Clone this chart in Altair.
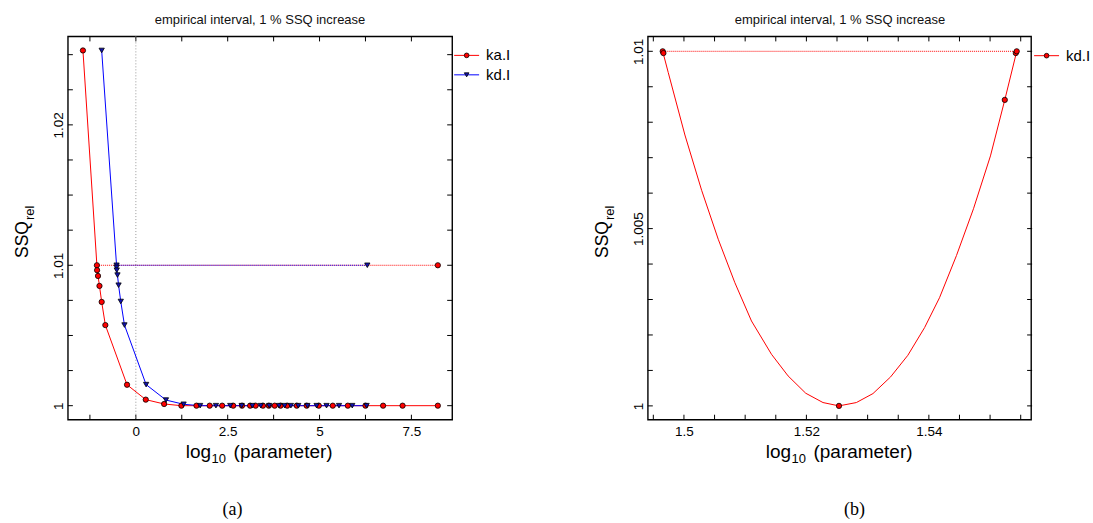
import altair as alt
import pandas as pd

FONT = "Liberation Sans"
W, H = 385, 384

# ---------------- panel (a) data ----------------
ka_x = [-1.44, -1.06, -1.055, -1.03, -0.99, -0.93, -0.83, -0.24, 0.27, 0.77, 1.24,
        1.65, 2.01, 2.35, 2.65, 2.89, 3.11, 3.26, 3.46, 3.62, 3.78, 3.94, 4.12,
        4.38, 4.65, 4.98, 5.36, 5.77, 6.25, 6.73, 7.26, 8.22]
ka_y = [1.0253, 1.0100, 1.00965, 1.00924, 1.00853, 1.00739, 1.00574, 1.00149, 1.00043, 1.00012, 1.0,
        1.0, 1.0, 1.0, 1.0, 1.0, 1.0, 1.0, 1.0, 1.0, 1.0, 1.0, 1.0,
        1.0, 1.0, 1.0, 1.0, 1.0, 1.0, 1.0, 1.0, 1.0]
kd_x = [-0.93, -0.525, -0.525, -0.52, -0.50, -0.47, -0.41, -0.31, 0.28, 0.82, 1.30,
        1.75, 2.18, 2.57, 2.88, 3.17, 3.40, 3.63, 3.90, 4.05, 4.22, 4.42, 4.67,
        4.92, 5.19, 5.53, 5.89, 6.28]
kd_y = [1.0253, 1.0100, 1.00985, 1.00965, 1.0093, 1.00858, 1.00742, 1.00574, 1.0015, 1.0004, 1.0001,
        1.0, 1.0, 1.0, 1.0, 1.0, 1.0, 1.0, 1.0, 1.0, 1.0, 1.0, 1.0,
        1.0, 1.0, 1.0, 1.0, 1.0]
# interval ends (dotted lines at 1 % increase)
a_int_series = ["ka.I", "kd.I"]
a_int_x1 = [-1.06, -0.525]
a_int_x2 = [8.22, 6.30]
a_int_y = [1.01, 1.01]

a_xdomain = [-1.85, 8.61]
a_ydomain = [0.999, 1.0263]
a_xticks = [-1.25, 0, 1.25, 2.5, 3.75, 5, 6.25, 7.5]
a_xlabels = [0, 2.5, 5, 7.5]
a_yticks = [1.0, 1.0025, 1.005, 1.0075, 1.01, 1.0125, 1.015, 1.0175, 1.02, 1.0225, 1.025]
a_ylabels = [1.0, 1.01, 1.02]
a_vline = [0]

# ---------------- panel (b) data ----------------
b_curve_x = [1.49653, 1.49744, 1.50016, 1.50289, 1.50560, 1.50832, 1.51103, 1.51430,
             1.51701, 1.51989, 1.52271, 1.52532, 1.52816, 1.53087, 1.53375, 1.53657,
             1.53930, 1.54174, 1.54451, 1.54729, 1.55006, 1.55240, 1.55435]
b_curve_y = [1.0100, 1.00940, 1.00764, 1.00608, 1.00470, 1.003473, 1.002394, 1.001455,
             1.000845, 1.000357, 1.000094, 1.0, 1.000094, 1.000347, 1.000817, 1.001427,
             1.002207, 1.00305, 1.00424, 1.00556, 1.00705, 1.00863, 1.0100]
b_pts_x = [1.49653, 1.49665, 1.52532, 1.55240, 1.55420, 1.55435]
b_pts_y = [1.0100, 1.00995, 1.0, 1.00863, 1.00995, 1.0100]
b_int_x1 = [1.49653]
b_int_x2 = [1.55435]
b_int_y = [1.01]

b_xdomain = [1.4941, 1.5567]
b_ydomain = [0.99961, 1.01042]
b_xticks = [1.495, 1.5, 1.505, 1.51, 1.515, 1.52, 1.525, 1.53, 1.535, 1.54, 1.545, 1.55, 1.555]
b_xlabels = [1.5, 1.52, 1.54]
b_yticks = [1.0, 1.001, 1.002, 1.003, 1.004, 1.005, 1.006, 1.007, 1.008, 1.009, 1.01]
b_ylabels = [1.0, 1.005, 1.01]

TITLE = "empirical interval, 1 % SSQ increase"
RED = "#ff0000"
BLUE = "#0000ff"
NAVY = "#1010b0"
MSIZE = 28


def scales(xdom, ydom):
    return (alt.Scale(domain=xdom, nice=False, zero=False),
            alt.Scale(domain=ydom, nice=False, zero=False))


def frame_layers(xdom, ydom, xticks, xlabels, yticks, ylabels, right_extent, left_extent):
    xs, ys = scales(xdom, ydom)
    xaxis = alt.Axis(values=xlabels, ticks=False, domain=False, grid=False, format=".6~g",
                     labelFont=FONT, labelFontSize=13.5, labelColor="black", labelPadding=5,
                     title=None)
    yaxis = alt.Axis(values=ylabels, ticks=False, domain=False, grid=False, format=".6~g",
                     labelFont=FONT, labelFontSize=13.5, labelColor="black", labelPadding=5,
                     labelAngle=270, labelAlign="center", labelBaseline="alphabetic",
                     title=None)
    xt = pd.DataFrame({"v": xticks})
    yt = pd.DataFrame({"v": yticks})
    axes = alt.Chart(pd.DataFrame({"x": [xdom[0]], "y": [ydom[0]]})).mark_point(opacity=0).encode(
        x=alt.X("x:Q", scale=xs, axis=xaxis),
        y=alt.Y("y:Q", scale=ys, axis=yaxis),
    )
    tb = alt.Chart(xt).mark_rule(color="black", strokeWidth=1).encode(
        x=alt.X("v:Q", scale=xs), y=alt.value(H - 5), y2=alt.value(H))
    tt = alt.Chart(xt).mark_rule(color="black", strokeWidth=1).encode(
        x=alt.X("v:Q", scale=xs), y=alt.value(0), y2=alt.value(5))
    tl = alt.Chart(yt).mark_rule(color="black", strokeWidth=1).encode(
        y=alt.Y("v:Q", scale=ys), x=alt.value(0), x2=alt.value(5))
    tr = alt.Chart(yt).mark_rule(color="black", strokeWidth=1).encode(
        y=alt.Y("v:Q", scale=ys), x=alt.value(W - 5), x2=alt.value(W))
    extent = alt.Chart(pd.DataFrame({"a": [0]})).mark_rect(opacity=0).encode(
        x=alt.value(left_extent), x2=alt.value(right_extent), y=alt.value(-35), y2=alt.value(488))
    return [extent, axes, tb, tt, tl, tr]


def text_layers(letter, letter_x):
    one = pd.DataFrame({"a": [0]})
    t = alt.Chart(one)
    out = [
        t.mark_text(text=TITLE, font=FONT, fontSize=13, color="#111", align="center",
                    baseline="middle").encode(x=alt.value(W / 2), y=alt.value(-16)),
        t.mark_text(text="log", font=FONT, fontSize=19, color="black", align="right",
                    baseline="alphabetic").encode(x=alt.value(143.5), y=alt.value(422)),
        t.mark_text(text="10", font=FONT, fontSize=13, color="black", align="left",
                    baseline="alphabetic").encode(x=alt.value(144), y=alt.value(427)),
        t.mark_text(text="(parameter)", font=FONT, fontSize=19, color="black", align="left",
                    baseline="alphabetic").encode(x=alt.value(166), y=alt.value(422)),
        t.mark_text(text="SSQ", font=FONT, fontSize=17.5, color="black", align="left",
                    baseline="alphabetic", angle=270).encode(x=alt.value(-40), y=alt.value(222)),
        t.mark_text(text="rel", font=FONT, fontSize=13, color="black", align="left",
                    baseline="alphabetic", angle=270).encode(x=alt.value(-34), y=alt.value(184)),
        t.mark_text(text=letter, font="Liberation Serif", fontSize=18, color="black",
                    align="center", baseline="alphabetic").encode(x=alt.value(letter_x), y=alt.value(479)),
    ]
    return out


def legend_item(label, color, fill, shape, y):
    one = pd.DataFrame({"a": [0]})
    line = alt.Chart(one).mark_rule(color=color, strokeWidth=1).encode(
        x=alt.value(387), x2=alt.value(412), y=alt.value(y))
    pt = alt.Chart(one).mark_point(filled=True, fill=fill, stroke="black", strokeWidth=0.8,
                                   size=22, shape=shape, opacity=1).encode(
        x=alt.value(399.5), y=alt.value(y))
    txt = alt.Chart(one).mark_text(text=label, font=FONT, fontSize=15, color="black",
                                   align="left", baseline="middle").encode(
        x=alt.value(419), y=alt.value(y))
    return [line, pt, txt]


# ---------------- panel (a) ----------------
xs_a, ys_a = scales(a_xdomain, a_ydomain)
df_a = pd.concat([
    pd.DataFrame({"x": ka_x, "y": ka_y, "series": "ka.I", "i": range(len(ka_x))}),
    pd.DataFrame({"x": kd_x, "y": kd_y, "series": "kd.I", "i": range(len(kd_x))}),
])
col_a = alt.Color("series:N", scale=alt.Scale(domain=["ka.I", "kd.I"], range=[RED, BLUE]), legend=None)
fill_a = alt.Fill("series:N", scale=alt.Scale(domain=["ka.I", "kd.I"], range=[RED, NAVY]), legend=None)
shape_a = alt.Shape("series:N", scale=alt.Scale(domain=["ka.I", "kd.I"], range=["circle", "triangle-down"]), legend=None)

int_a = pd.DataFrame({"series": a_int_series, "x1": a_int_x1, "x2": a_int_x2, "y": a_int_y})
vline_a = alt.Chart(pd.DataFrame({"v": a_vline})).mark_rule(color="#999", strokeWidth=1, strokeDash=[1, 2]).encode(
    x=alt.X("v:Q", scale=xs_a))
hl_a = alt.Chart(int_a).mark_rule(strokeWidth=1, strokeDash=[1, 1]).encode(
    x=alt.X("x1:Q", scale=xs_a), x2="x2:Q", y=alt.Y("y:Q", scale=ys_a), color=col_a)
lines_a = alt.Chart(df_a).mark_line(strokeWidth=1).encode(
    x=alt.X("x:Q", scale=xs_a), y=alt.Y("y:Q", scale=ys_a), color=col_a, order="i:Q", detail="series:N")
ends_a = alt.Chart(int_a).mark_point(filled=True, stroke="black", strokeWidth=0.8, size=MSIZE, opacity=1).encode(
    x=alt.X("x2:Q", scale=xs_a), y=alt.Y("y:Q", scale=ys_a), fill=fill_a, shape=shape_a)
pts_a = alt.Chart(df_a).mark_point(filled=True, stroke="black", strokeWidth=0.8, size=MSIZE, opacity=1).encode(
    x=alt.X("x:Q", scale=xs_a), y=alt.Y("y:Q", scale=ys_a), fill=fill_a, shape=shape_a)

layers_a = frame_layers(a_xdomain, a_ydomain, a_xticks, a_xlabels, a_yticks, a_ylabels, W, -67)
layers_a += [vline_a, hl_a, lines_a, ends_a, pts_a]
layers_a += text_layers("(a)", 165)
layers_a += legend_item("ka.I", RED, RED, "circle", 19)
layers_a += legend_item("kd.I", BLUE, NAVY, "triangle-down", 38.5)
chart_a = alt.layer(*layers_a).properties(width=W, height=H)

# ---------------- panel (b) ----------------
xs_b, ys_b = scales(b_xdomain, b_ydomain)
curve_b = pd.DataFrame({"x": b_curve_x, "y": b_curve_y, "i": range(len(b_curve_x))})
pts_bdf = pd.DataFrame({"x": b_pts_x, "y": b_pts_y})
int_b = pd.DataFrame({"x1": b_int_x1, "x2": b_int_x2, "y": b_int_y})
hl_b = alt.Chart(int_b).mark_rule(color=RED, strokeWidth=1, strokeDash=[1, 1]).encode(
    x=alt.X("x1:Q", scale=xs_b), x2="x2:Q", y=alt.Y("y:Q", scale=ys_b))
line_b = alt.Chart(curve_b).mark_line(color=RED, strokeWidth=1).encode(
    x=alt.X("x:Q", scale=xs_b), y=alt.Y("y:Q", scale=ys_b), order="i:Q")
pts_b = alt.Chart(pts_bdf).mark_point(filled=True, fill=RED, stroke="black", strokeWidth=0.8,
                                      size=MSIZE, shape="circle", opacity=1).encode(
    x=alt.X("x:Q", scale=xs_b), y=alt.Y("y:Q", scale=ys_b))

layers_b = frame_layers(b_xdomain, b_ydomain, b_xticks, b_xlabels, b_yticks, b_ylabels, 445, 0)
layers_b += [hl_b, line_b, pts_b]
layers_b += text_layers("(b)", 207)
layers_b += legend_item("kd.I", RED, RED, "circle", 19.3)
chart_b = alt.layer(*layers_b).properties(width=W - 1, height=H)

chart = alt.hconcat(chart_a, chart_b, spacing=196, bounds="flush").properties(
    padding=0, background="white"
).configure_view(stroke="black", strokeWidth=1.4)

chart.save("out.html", embed_options={"renderer": "svg", "actions": False})
